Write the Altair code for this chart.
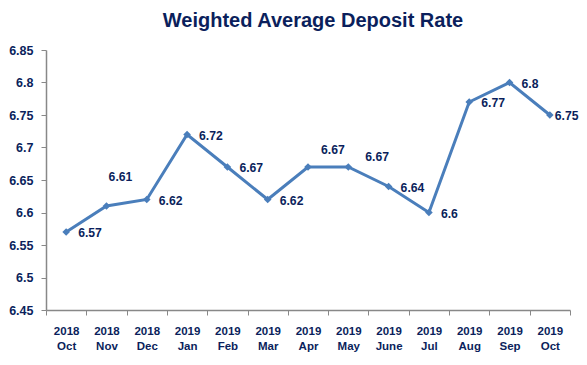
import altair as alt
import pandas as pd

months = ["2018 Oct", "2018 Nov", "2018 Dec", "2019 Jan", "2019 Feb", "2019 Mar",
          "2019 Apr", "2019 May", "2019 June", "2019 Jul", "2019 Aug", "2019 Sep", "2019 Oct"]
rates = [6.57, 6.61, 6.62, 6.72, 6.67, 6.62, 6.67, 6.67, 6.64, 6.6, 6.77, 6.8, 6.75]
y_ticks = [6.45, 6.5, 6.55, 6.6, 6.65, 6.7, 6.75, 6.8, 6.85]

df = pd.DataFrame({"month": months, "rate": rates, "idx": list(range(len(months)))})

NAVY = "#0b1f5c"
BLUE = "#4a7ebb"
FONT = "Liberation Sans"

x_enc = alt.X("month:N", sort=months, title=None,
              scale=alt.Scale(type="band", paddingInner=0, paddingOuter=0),
              axis=alt.Axis(labelAngle=0, labelExpr="split(datum.label, ' ')",
                            labelFontSize=11.5, labelFontWeight="bold", labelColor=NAVY,
                            labelFont=FONT, labelLineHeight=15, labelPadding=10,
                            tickBand="extent", tickSize=5, tickColor="#888888",
                            domainColor="#888888", domainWidth=1.5, grid=False))
y_enc = alt.Y("rate:Q", title=None,
              scale=alt.Scale(domain=[6.45, 6.85], nice=False, zero=False),
              axis=alt.Axis(values=y_ticks, format="~g", labelFontSize=12.5,
                            labelFontWeight="bold", labelColor=NAVY, labelFont=FONT,
                            labelOverlap=False, labelPadding=8, tickSize=5,
                            tickColor="#888888", domainColor="#888888", domainWidth=1.5,
                            grid=False))

base = alt.Chart(df)
line = base.mark_line(color=BLUE, strokeWidth=3).encode(x=x_enc, y=y_enc)
pts = base.mark_point(shape="diamond", filled=True, color=BLUE, size=58, opacity=1).encode(
    x=x_enc, y=y_enc)

# label placement: (dx, dy, align) for special months, default otherwise
special = {1: (14, -29, "center"), 6: (13, -17, "left"), 7: (17, -10, "left"), 12: (5, 1, "left")}
default_idx = [i for i in range(len(months)) if i not in special]

LABEL_SIZE = 12.2
label_layers = [
    base.transform_filter(alt.FieldOneOfPredicate(field="idx", oneOf=default_idx)).mark_text(
        align="left", baseline="middle", dx=12, dy=1, fontSize=LABEL_SIZE, fontWeight="bold",
        color=NAVY, font=FONT).encode(x=x_enc, y=y_enc,
                                      text=alt.Text("rate:Q", format="~g"))
]
for i, (dx, dy, al) in special.items():
    label_layers.append(
        base.transform_filter(alt.datum.idx == i).mark_text(
            align=al, baseline="middle", dx=dx, dy=dy, fontSize=LABEL_SIZE, fontWeight="bold",
            color=NAVY, font=FONT).encode(x=x_enc, y=y_enc,
                                          text=alt.Text("rate:Q", format="~g")))

chart = alt.layer(line, pts, *label_layers).properties(
    width=524, height=260,
    autosize=alt.AutoSizeParams(type="none"),
    padding={"left": 38, "top": 42, "right": 9, "bottom": 43},
    background="white",
    title=alt.TitleParams("Weighted Average Deposit Rate", font=FONT, fontSize=20,
                          fontWeight="bold", color=NAVY, anchor="middle", offset=13, dx=5),
).configure_view(stroke=None).configure_axisY(labelOverlap=False)

chart.save("out.html", embed_options={"renderer": "svg", "actions": False})
